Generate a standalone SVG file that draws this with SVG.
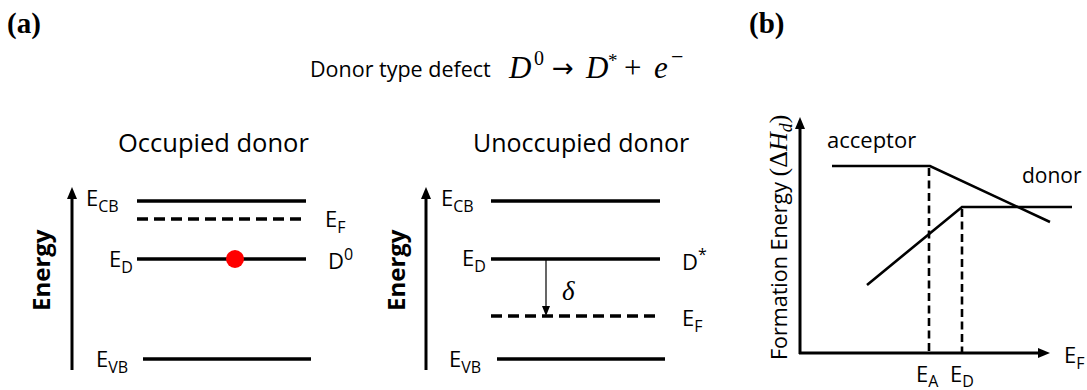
<svg xmlns="http://www.w3.org/2000/svg" width="1087" height="390" viewBox="0 0 1087 390">
<style>
.sans{font-family:"Open Sans","Liberation Sans",sans-serif;fill:#000}
.serif{font-family:"Liberation Serif","DejaVu Serif",serif;fill:#000}
.lbl{font-family:"Open Sans","Liberation Sans",sans-serif;font-size:22px;fill:#000}
.sub{font-size:16px}
.lvl{stroke:#000;stroke-width:3.5;fill:none}
.dash{stroke-dasharray:11 6}
.ax{stroke:#000;stroke-width:3;fill:none}
.bl{stroke:#000;stroke-width:2.6;fill:none}
.bd{stroke:#000;stroke-width:2.6;fill:none;stroke-dasharray:8 4.5}
</style>
<defs>
<marker id="ah" viewBox="0 0 12 10" refX="2" refY="5" markerWidth="12" markerHeight="10" markerUnits="userSpaceOnUse" orient="auto"><path d="M0,0 L12,5 L0,10 z" fill="#000"/></marker>
<marker id="ahs" viewBox="0 0 10 8" refX="1" refY="4" markerWidth="10" markerHeight="8" markerUnits="userSpaceOnUse" orient="auto"><path d="M0,0 L10,4 L0,8 z" fill="#000"/></marker>
</defs>
<rect width="1087" height="390" fill="#fff"/>

<g id="panel-labels">
<text x="7" y="33" class="serif" font-size="29" font-weight="bold">(a)</text>
<text x="749" y="33" class="serif" font-size="29" font-weight="bold">(b)</text>
</g>

<g id="title">
<text x="310" y="77" class="sans" font-size="21.5">Donor type defect</text>
<text y="78" class="serif" font-size="31"><tspan x="509" font-style="italic">D</tspan><tspan x="534" y="65" font-size="20">0</tspan><tspan x="552" y="77" font-family="DejaVu Sans" font-size="26">→</tspan><tspan x="586" y="78" font-style="italic">D</tspan><tspan x="608" y="67" font-size="19">*</tspan><tspan x="624" y="78">+</tspan><tspan x="654" y="78" font-style="italic">e</tspan><tspan x="671" y="64" font-size="22">−</tspan></text>
</g>

<g id="occupied">
<text x="118" y="152" class="sans" font-size="25.5">Occupied donor</text>
<text transform="translate(50,311) rotate(-90)" class="sans" font-size="24" font-weight="bold">Energy</text>
<line x1="137" y1="201" x2="306" y2="201" class="lvl"/>
<line x1="137" y1="219" x2="306" y2="219" class="lvl dash"/>
<line x1="137" y1="259" x2="306" y2="259" class="lvl"/>
<line x1="143" y1="359" x2="311" y2="359" class="lvl"/>
<circle cx="235" cy="259" r="9" fill="#f00"/>
<text x="86" y="206" class="lbl">E<tspan class="sub" dy="6">CB</tspan></text>
<text x="325" y="227" class="lbl">E<tspan class="sub" dy="6">F</tspan></text>
<text x="109" y="267" class="lbl">E<tspan class="sub" dy="6">D</tspan></text>
<text x="328" y="269" class="lbl">D<tspan class="sub" dy="-9">0</tspan></text>
<text x="96" y="367" class="lbl">E<tspan class="sub" dy="6">VB</tspan></text>
</g>

<g id="unoccupied">
<text x="473" y="152" class="sans" font-size="25">Unoccupied donor</text>
<text transform="translate(405,311) rotate(-90)" class="sans" font-size="24" font-weight="bold">Energy</text>
<line x1="491" y1="201" x2="660" y2="201" class="lvl"/>
<line x1="491" y1="259" x2="660" y2="259" class="lvl"/>
<line x1="491" y1="316" x2="658" y2="316" class="lvl dash"/>
<line x1="497" y1="359" x2="665" y2="359" class="lvl"/>
<text x="562" y="300" class="serif" font-size="27" font-style="italic">δ</text>
<text x="441" y="206" class="lbl">E<tspan class="sub" dy="6">CB</tspan></text>
<text x="462" y="266" class="lbl">E<tspan class="sub" dy="6">D</tspan></text>
<text x="682" y="270" class="lbl">D<tspan class="sub" dy="-10">*</tspan></text>
<text x="682" y="326" class="lbl">E<tspan class="sub" dy="6">F</tspan></text>
<text x="449" y="367" class="lbl">E<tspan class="sub" dy="6">VB</tspan></text>
</g>

<g id="formation-plot">
<text transform="translate(787,360) rotate(-90)" class="sans" font-size="21.5">Formation Energy <tspan class="serif" font-size="26">(Δ<tspan font-style="italic">H</tspan><tspan font-style="italic" font-size="18" dy="5">d</tspan><tspan dy="-5">)</tspan></tspan></text>
<text x="827" y="148" class="sans" font-size="22">acceptor</text>
<text x="1022" y="183" class="sans" font-size="21">donor</text>
<polyline points="832,166 930,166 1050,222" class="bl"/>
<polyline points="867,285 962,207 1072,207" class="bl"/>
<line x1="929" y1="168" x2="929" y2="352" class="bd"/>
<line x1="962" y1="209" x2="962" y2="352" class="bd"/>
<text x="916" y="382" class="lbl">E<tspan class="sub" dy="5">A</tspan></text>
<text x="950" y="382" class="lbl">E<tspan class="sub" dy="5">D</tspan></text>
<text x="1064" y="363" class="lbl">E<tspan class="sub" dy="6">F</tspan></text>
</g>

<g id="connectors">
<line x1="72" y1="370" x2="72" y2="197" class="ax" marker-end="url(#ah)"/>
<line x1="426" y1="370" x2="426" y2="197" class="ax" marker-end="url(#ah)"/>
<line x1="546" y1="260" x2="546" y2="307" stroke="#000" stroke-width="1.2" marker-end="url(#ahs)"/>
<line x1="800" y1="354" x2="800" y2="127" class="ax" marker-end="url(#ah)"/>
<line x1="799" y1="353" x2="1040" y2="353" class="ax" marker-end="url(#ah)"/>
</g>
</svg>
